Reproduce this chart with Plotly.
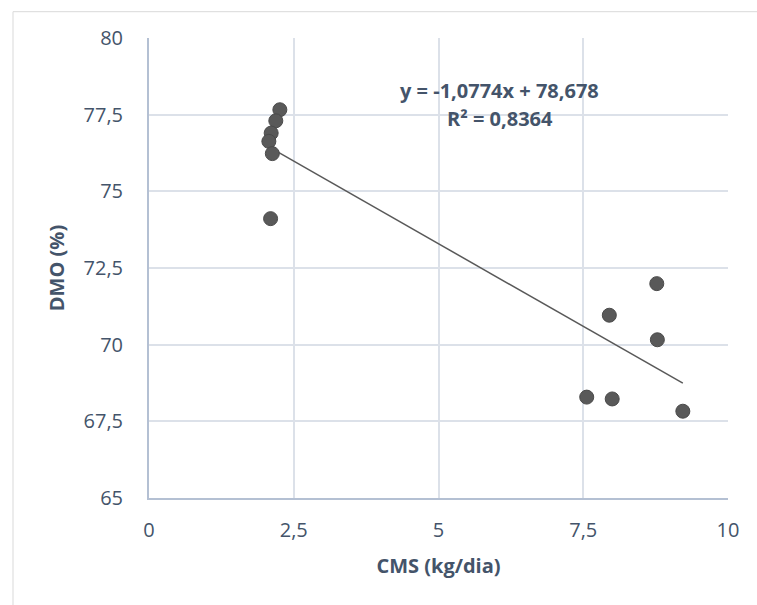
import plotly.graph_objects as go

# Data
cms = [2.26, 2.19, 2.11, 2.07, 2.13, 2.10, 8.77, 7.95, 8.78, 7.56, 8.00, 9.22]
dmo = [77.66, 77.30, 76.90, 76.63, 76.23, 74.11, 71.99, 70.96, 70.16, 68.29, 68.23, 67.83]

slope = -1.0774
intercept = 78.678
r2 = 0.8364

x_ticks = [0, 2.5, 5, 7.5, 10]
x_labels = ["0", "2,5", "5", "7,5", "10"]
y_ticks = [65, 67.5, 70, 72.5, 75, 77.5, 80]
y_labels = ["65", "67,5", "70", "72,5", "75", "77,5", "80"]

eq_text = "y = -1,0774x + 78,678"
r2_text = "R² = 0,8364"

txt_color = "#44546A"
grid_color = "#DCE1E9"
axis_color = "#B4C0D3"
mark_color = "#595959"
font_family = "Open Sans"

x_line = [min(cms), max(cms)]
y_line = [slope * v + intercept for v in x_line]

fig = go.Figure()
fig.add_trace(go.Scatter(
    x=x_line, y=y_line, mode="lines",
    line=dict(color=mark_color, width=1.5),
    showlegend=False, hoverinfo="skip",
))
fig.add_trace(go.Scatter(
    x=cms, y=dmo, mode="markers",
    marker=dict(size=14, color=mark_color, line=dict(color="#4a4a4a", width=1)),
    showlegend=False,
))

fig.add_annotation(x=6.06, y=78.28, xref="x", yref="y", text="<b>" + eq_text + "</b>",
                   showarrow=False, font=dict(family=font_family, size=20, color=txt_color))
fig.add_annotation(x=6.06, y=77.37, xref="x", yref="y", text="<b>" + r2_text + "</b>",
                   showarrow=False, font=dict(family=font_family, size=20, color=txt_color))

# chart-area border (cropped at right/bottom)
fig.add_shape(type="rect", xref="paper", yref="paper",
              x0=(13 - 149) / 579, x1=1.07, y0=-0.26, y1=1 + (38.3 - 12) / 460,
              line=dict(color="#D9D9D9", width=1), fillcolor="rgba(0,0,0,0)", layer="below")

fig.update_layout(
    width=757, height=605,
    margin=dict(l=149, r=29, t=38, b=107),
    paper_bgcolor="white", plot_bgcolor="white",
    font=dict(family=font_family, size=20, color=txt_color),
    xaxis=dict(
        range=[0, 10], tickvals=x_ticks, ticktext=x_labels,
        showgrid=True, gridcolor=grid_color, gridwidth=1.5,
        showline=True, linecolor=axis_color, linewidth=2,
        zeroline=False, ticks="", ticklabelstandoff=13,
        tickfont=dict(family=font_family, size=20, color=txt_color),
        title=dict(text="<b>CMS (kg/dia)</b>", standoff=17,
                   font=dict(family=font_family, size=20, color=txt_color)),
    ),
    yaxis=dict(
        range=[65, 80], tickvals=y_ticks, ticktext=y_labels,
        showgrid=True, gridcolor=grid_color, gridwidth=1.5,
        showline=True, linecolor=axis_color, linewidth=2,
        zeroline=False, ticks="", ticklabelstandoff=20,
        tickfont=dict(family=font_family, size=20, color=txt_color),
        title=dict(text="<b>DMO (%)</b>", standoff=14,
                   font=dict(family=font_family, size=20, color=txt_color)),
    ),
)

fig.write_html("out.html")
